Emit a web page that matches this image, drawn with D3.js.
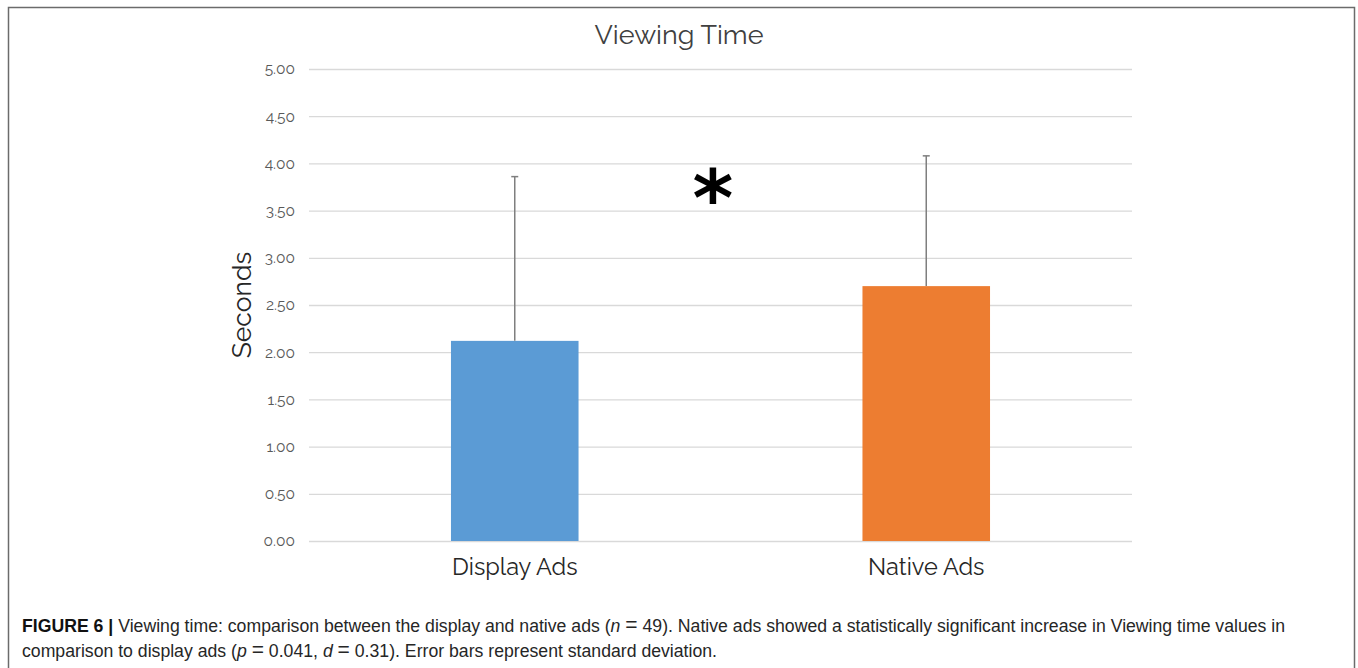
<!DOCTYPE html>
<html>
<head>
<meta charset="utf-8">
<script src="https://cdn.jsdelivr.net/npm/d3@7"></script>
<style>
  html, body { margin: 0; padding: 0; background: #fff; }
  svg { display: block; }
</style>
</head>
<body>
<svg id="chart" width="1358" height="668"></svg>
<script>
// Viewing time per ad type (seconds), with standard deviations
const categories = ["Display Ads", "Native Ads"];
const means = [2.12, 2.70];
const sds = [1.74, 1.38];
const barColors = ["#5b9bd5", "#ed7d31"];
const yTicks = [0, 0.5, 1, 1.5, 2, 2.5, 3, 3.5, 4, 4.5, 5];

const svg = d3.select("#chart");

// figure frame
svg.append("path")
  .attr("d", "M8.5,680 V7.5 H1354.5 V680")
  .attr("fill", "none")
  .attr("stroke", "#6b6b6b")
  .attr("stroke-width", 1.5);

const plot = { left: 309, right: 1132, top: 69, bottom: 541 };
const chartFont = "Raleway, Lato, 'Open Sans', sans-serif";

const x = d3.scaleBand()
  .domain(categories)
  .range([plot.left, plot.right])
  .paddingInner(0.69)
  .paddingOuter(0.345);

const y = d3.scaleLinear()
  .domain([0, 5])
  .range([plot.bottom, plot.top]);

// gridlines + tick labels
const yAxis = d3.axisLeft(y)
  .tickValues(yTicks)
  .tickSize(-(plot.right - plot.left))
  .tickPadding(14)
  .tickFormat(d3.format(".2f"));

const gy = svg.append("g")
  .attr("transform", `translate(${plot.left},0)`)
  .call(yAxis);
gy.select(".domain").remove();
gy.selectAll(".tick line")
  .attr("stroke", "#d9d9d9")
  .attr("stroke-width", 1.3);
gy.selectAll(".tick text")
  .attr("fill", "#595959")
  .attr("font-family", chartFont)
  .attr("font-size", 15.5);

// bars
svg.append("g").selectAll("rect")
  .data(categories)
  .join("rect")
  .attr("x", d => x(d))
  .attr("y", (d, i) => y(means[i]))
  .attr("width", x.bandwidth())
  .attr("height", (d, i) => y(0) - y(means[i]))
  .attr("fill", (d, i) => barColors[i]);

// error bars (upper only)
const eb = svg.append("g").attr("stroke", "#7f7f7f").attr("stroke-width", 1.5);
categories.forEach((c, i) => {
  const cx = x(c) + x.bandwidth() / 2;
  eb.append("line")
    .attr("x1", cx).attr("x2", cx)
    .attr("y1", y(means[i])).attr("y2", y(means[i] + sds[i]));
  eb.append("line")
    .attr("x1", cx - 3.5).attr("x2", cx + 3.5)
    .attr("y1", y(means[i] + sds[i])).attr("y2", y(means[i] + sds[i]));
});

// category labels
const xAxis = d3.axisBottom(x).tickSize(0).tickPadding(17);
const gx = svg.append("g")
  .attr("transform", `translate(0,${plot.bottom})`)
  .call(xAxis);
gx.select(".domain").remove();
gx.selectAll(".tick text")
  .attr("fill", "#262626")
  .attr("font-family", chartFont)
  .attr("font-size", 23.5);

// title
svg.append("text")
  .attr("x", 679)
  .attr("y", 44)
  .attr("text-anchor", "middle")
  .attr("fill", "#404040")
  .attr("font-family", chartFont)
  .attr("font-size", 27)
  .text("Viewing Time");

// y-axis title
svg.append("text")
  .attr("transform", `translate(251,305) rotate(-90)`)
  .attr("text-anchor", "middle")
  .attr("fill", "#262626")
  .attr("font-family", chartFont)
  .attr("font-size", 26.5)
  .text("Seconds");

// significance marker
svg.append("text")
  .attr("x", 713)
  .attr("y", 226)
  .attr("text-anchor", "middle")
  .attr("fill", "#000")
  .attr("font-family", "'DejaVu Sans', sans-serif")
  .attr("font-weight", "bold")
  .attr("font-size", 78)
  .text("*");

// caption (slightly condensed; "=" set a little wider, as in math typesetting)
const capFont = "'Liberation Sans Narrow', 'Arial Narrow', 'Liberation Sans', sans-serif";
const cap = svg.append("g")
  .attr("transform", "translate(22,0) scale(0.955,1)")
  .attr("font-family", capFont)
  .attr("font-size", 18.5)
  .attr("fill", "#262626");

function addEq(t) {
  t.append("tspan").text(" ");
  t.append("tspan").attr("font-size", 22).text("=");
  t.append("tspan").text(" ");
}

const cap1 = cap.append("text").attr("x", 0).attr("y", 632);
cap1.append("tspan").attr("font-weight", "bold").attr("fill", "#111").text("FIGURE 6 | ");
cap1.append("tspan").text("Viewing time: comparison between the display and native ads (");
cap1.append("tspan").attr("font-style", "italic").text("n");
addEq(cap1);
cap1.append("tspan").text("49). Native ads showed a statistically significant increase in Viewing time values in");

const cap2 = cap.append("text").attr("x", 0).attr("y", 657);
cap2.append("tspan").text("comparison to display ads (");
cap2.append("tspan").attr("font-style", "italic").text("p");
addEq(cap2);
cap2.append("tspan").text("0.041, ");
cap2.append("tspan").attr("font-style", "italic").text("d");
addEq(cap2);
cap2.append("tspan").text("0.31). Error bars represent standard deviation.");
</script>
</body>
</html>
